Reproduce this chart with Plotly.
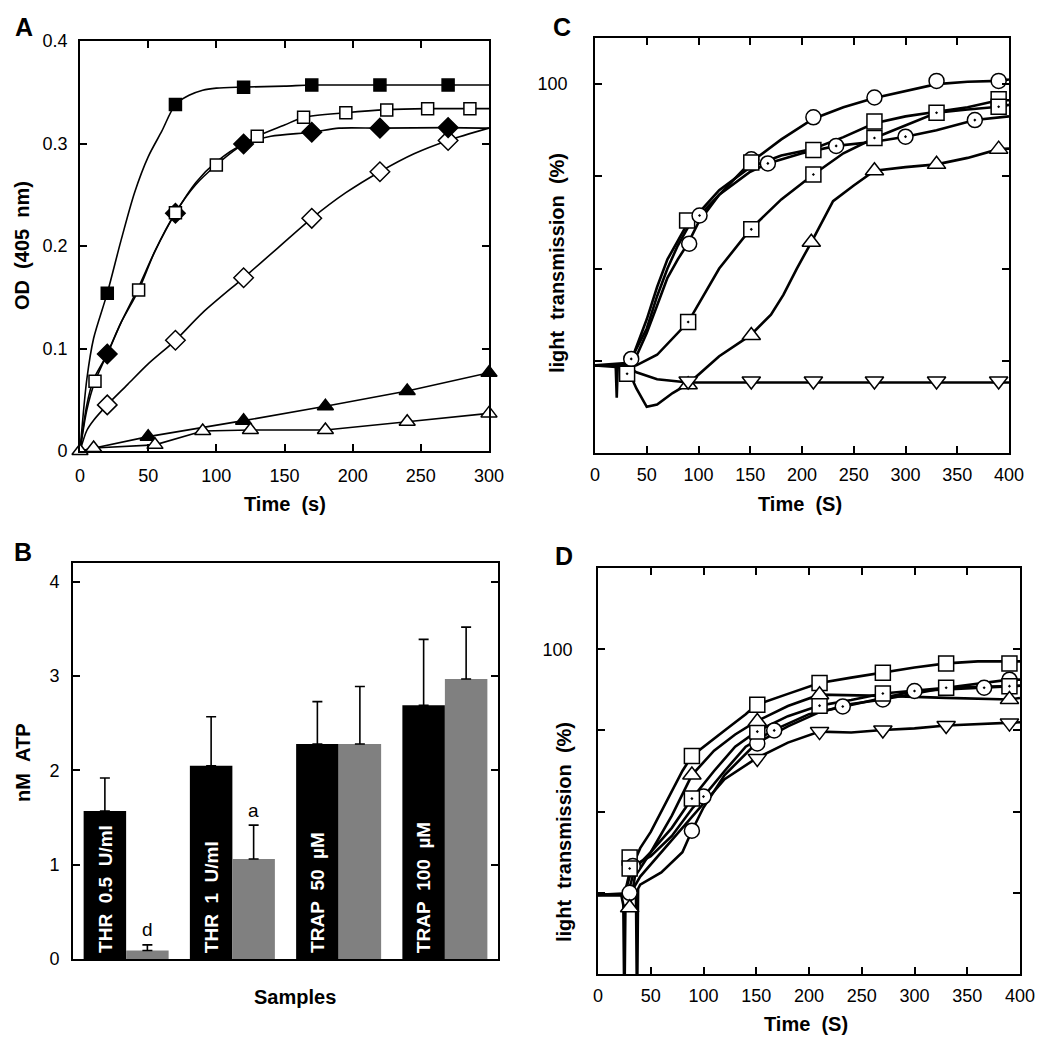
import plotly.graph_objects as go

FONT = "Liberation Sans, Arial, Helvetica, sans-serif"
W, H = 1039, 1050

# ---------------- Panel A data (OD 405 nm vs time) ----------------
a_fsq_line_x = [0, 5, 10, 20, 30, 40, 50, 60, 70, 80, 90, 100, 120, 150, 170, 200, 220, 250, 270, 300]
a_fsq_line_y = [0, 0.07, 0.11, 0.154, 0.205, 0.252, 0.287, 0.312, 0.338, 0.347, 0.352, 0.354, 0.355, 0.356, 0.357, 0.357, 0.357, 0.357, 0.357, 0.357]
a_fsq_mk_x = [20, 70, 120, 170, 220, 270]
a_fsq_mk_y = [0.154, 0.338, 0.355, 0.357, 0.357, 0.357]

a_osq_line_x = [0, 5, 11, 20, 30, 43, 55, 70, 85, 100, 115, 130, 150, 164, 195, 225, 255, 285, 300]
a_osq_line_y = [0, 0.04, 0.068, 0.095, 0.125, 0.157, 0.195, 0.2325, 0.26, 0.279, 0.295, 0.307, 0.318, 0.3255, 0.330, 0.333, 0.334, 0.334, 0.334]
a_osq_mk_x = [11, 43, 70, 100, 130, 164, 195, 225, 255, 286]
a_osq_mk_y = [0.068, 0.157, 0.2325, 0.279, 0.307, 0.3255, 0.330, 0.3327, 0.334, 0.334]

a_fdi_line_x = [0, 5, 10, 20, 30, 43, 55, 70, 85, 100, 120, 140, 170, 190, 220, 270, 300]
a_fdi_line_y = [0, 0.045, 0.07, 0.0946, 0.125, 0.16, 0.195, 0.232, 0.262, 0.282, 0.2995, 0.307, 0.311, 0.315, 0.315, 0.3155, 0.315]
a_fdi_mk_x = [20, 70, 120, 170, 220, 270]
a_fdi_mk_y = [0.0946, 0.232, 0.2995, 0.311, 0.315, 0.3155]

a_odi_line_x = [0, 5, 10, 20, 35, 50, 70, 90, 120, 145, 170, 195, 220, 245, 270, 300]
a_odi_line_y = [0, 0.02, 0.03, 0.045, 0.065, 0.085, 0.108, 0.135, 0.169, 0.198, 0.227, 0.252, 0.2725, 0.29, 0.303, 0.315]
a_odi_mk_x = [20, 70, 120, 170, 220, 270]
a_odi_mk_y = [0.045, 0.108, 0.169, 0.227, 0.2725, 0.303]

a_ftr_x = [0, 50, 120, 180, 240, 300]
a_ftr_y = [0, 0.014, 0.0296, 0.0436, 0.0585, 0.0764]
a_otr_x = [0, 10, 55, 90, 125, 180, 240, 300]
a_otr_y = [0, 0.003, 0.006, 0.0195, 0.0205, 0.0205, 0.0286, 0.0367]

# ---------------- Panel B data (nM ATP) ----------------
b_groups = [1, 2, 3, 4]
b_black = [1.57, 2.05, 2.28, 2.69]
b_black_err = [0.35, 0.52, 0.45, 0.70]
b_grey = [0.09, 1.06, 2.28, 2.97]
b_grey_err = [0.06, 0.36, 0.61, 0.55]
b_labels = ["THR\u00a0\u00a00.5\u00a0\u00a0U/ml", "THR\u00a0\u00a01\u00a0\u00a0U/ml",
            "TRAP\u00a0\u00a050\u00a0\u00a0\u00b5M", "TRAP\u00a0\u00a0100\u00a0\u00a0\u00b5M"]
b_sig = [(1, 0.31, "d"), (2, 1.58, "a")]

# ---------------- Panel C data (light transmission %) ----------------
c_series = {
    "circle": dict(
        lx=[0, 30, 38, 50, 60, 70, 80, 90, 100, 120, 150, 180, 211, 240, 270, 300, 330, 360, 390, 400],
        ly=[39, 39, 40, 46, 52, 58, 62, 65.5, 70, 76, 83, 88, 92.5, 95, 97, 98.5, 100, 100.5, 100.7, 101],
        mx=[91, 151, 211, 270, 330, 390], my=[65.4, 83.7, 92.8, 97.1, 100.7, 100.7]),
    "square": dict(
        lx=[0, 30, 35, 50, 60, 70, 80, 90, 100, 120, 150, 180, 211, 240, 270, 300, 330, 360, 390, 400],
        ly=[39, 39, 40, 49, 56, 62, 66, 70, 72, 77, 82, 84.5, 86, 88.5, 91.5, 93, 94, 95, 96.5, 96.5],
        mx=[89, 151, 211, 270, 390], my=[70.4, 83, 85.7, 91.9, 96.7]),
    "circle-dot": dict(
        lx=[0, 30, 35, 50, 60, 70, 80, 90, 101, 120, 150, 167, 200, 233, 270, 300, 330, 367, 400],
        ly=[39, 39.5, 40.4, 47, 54, 60, 65, 69, 71.5, 76, 81, 82.8, 85, 86.6, 87.5, 88.6, 90, 92.2, 93],
        mx=[35, 101, 167, 233, 300, 367], my=[40.4, 71.5, 82.8, 86.6, 88.6, 92.2]),
    "square-dot": dict(
        lx=[0, 30, 40, 60, 90, 120, 150, 180, 211, 240, 270, 300, 330, 360, 390, 400],
        ly=[39, 38.5, 39, 41.3, 48.4, 60, 68.5, 75, 80.4, 85, 88.3, 91, 93.8, 94.5, 95.1, 95.5],
        mx=[31, 90, 151, 211, 270, 330, 390], my=[37.2, 48.4, 68.5, 80.4, 88.3, 93.8, 95.1]),
    "triangle-up": dict(
        lx=[0, 30, 40, 50, 60, 75, 90, 120, 150, 170, 182, 195, 209, 230, 250, 270, 300, 330, 360, 390, 400],
        ly=[39, 39, 34, 30, 30.5, 33, 35, 41, 45.5, 50, 54.3, 60, 65.7, 74.6, 78, 81.2, 82, 82.6, 84, 85.9, 86],
        mx=[90, 151, 209, 270, 330, 390], my=[34.8, 45.5, 65.7, 81.2, 82.6, 85.9]),
    "triangle-down": dict(
        lx=[0, 20, 21, 22, 30, 40, 60, 90, 150, 210, 270, 330, 400],
        ly=[39, 39, 32, 39, 39, 37.5, 36, 35.3, 35.3, 35.3, 35.3, 35.3, 35.3],
        mx=[90, 151, 211, 270, 330, 390], my=[35.6, 35.6, 35.6, 35.6, 35.6, 35.6]),
}

# ---------------- Panel D data (light transmission %) ----------------
d_series = {
    "square": dict(
        lx=[0, 25, 30, 40, 50, 60, 70, 80, 89, 100, 120, 140, 150, 180, 210, 240, 270, 300, 330, 360, 400],
        ly=[39.5, 39.5, 45, 51, 55, 60, 65, 70, 73.7, 76, 80, 84, 86.3, 89, 91.7, 93, 94.2, 95.5, 96.5, 97, 97],
        mx=[30, 89, 151, 210, 270, 330, 390], my=[48.7, 73.7, 86.3, 91.7, 94.2, 96.5, 96.5]),
    "circle-dot": dict(
        lx=[0, 25, 33, 50, 70, 90, 100, 120, 140, 166, 200, 232, 270, 300, 366, 400],
        ly=[39.5, 39.5, 46.6, 49, 54, 61, 63.7, 70, 76, 80, 84, 85.9, 88, 89.7, 90.5, 91],
        mx=[33, 100, 167, 232, 300, 366], my=[46.6, 63.7, 80, 85.9, 89.7, 90.5]),
    "circle": dict(
        lx=[0, 30, 36, 37, 38, 40, 60, 80, 89, 100, 120, 150, 180, 210, 240, 270, 300, 330, 390, 400],
        ly=[39.5, 40, 40, 10, 41, 42, 45, 50, 55.3, 61, 69, 76.8, 81, 84.5, 86.5, 87.6, 89, 90.5, 92.5, 92.5],
        mx=[30, 89, 151, 270, 390], my=[40, 55.3, 76.8, 87.6, 92.5]),
    "square-dot": dict(
        lx=[0, 28, 35, 50, 70, 89, 110, 130, 150, 180, 210, 240, 270, 330, 400],
        ly=[39.5, 39.5, 46, 50, 56, 63.2, 70, 76, 79.7, 83.5, 86.1, 87.5, 89.1, 90.5, 91],
        mx=[30, 89, 151, 210, 270, 330, 390], my=[46, 63.2, 79.7, 86.1, 89.1, 90.5, 90.9]),
    "triangle-up": dict(
        lx=[0, 22, 24, 25, 26, 30, 35, 50, 70, 89, 110, 130, 150, 180, 210, 270, 330, 390, 400],
        ly=[39.5, 39.5, 37, 10, 37, 36.3, 44, 50, 59, 69, 75, 79, 82.2, 86, 88.8, 88.5, 88, 87.6, 88],
        mx=[30, 89, 151, 210, 390], my=[36.3, 69, 82.2, 88.8, 87.6]),
    "triangle-down": dict(
        lx=[0, 30, 40, 60, 80, 100, 120, 150, 180, 210, 240, 270, 300, 330, 390, 400],
        ly=[39.5, 39.5, 44, 50, 56, 62, 68, 73.1, 77, 79.7, 79.5, 80.1, 80.5, 81.2, 81.8, 82],
        mx=[151, 210, 270, 330, 390], my=[73.1, 79.7, 80.1, 81.2, 81.8]),
}

# ---------------- layout geometry (pixels) ----------------
def pxx(x):
    return x / W

def pxy(y):
    return 1 - y / H

fig = go.Figure()

BLACK = "black"
WHITE = "white"

def line_trace(x, y, xa, ya, shape="spline", width=1.6):
    return go.Scatter(x=x, y=y, mode="lines", xaxis=xa, yaxis=ya, showlegend=False,
                      line=dict(color=BLACK, width=width, shape=shape, smoothing=0.8 if shape == "spline" else None),
                      hoverinfo="skip")

def marker_trace(x, y, xa, ya, symbol, filled, size):
    return go.Scatter(x=x, y=y, mode="markers", xaxis=xa, yaxis=ya, showlegend=False, cliponaxis=False,
                      marker=dict(symbol=symbol, size=size, color=BLACK if filled else WHITE,
                                  line=dict(color=BLACK, width=1.5)),
                      hoverinfo="skip")

# Panel A
fig.add_trace(line_trace(a_odi_line_x, a_odi_line_y, "x", "y"))
fig.add_trace(line_trace(a_fdi_line_x, a_fdi_line_y, "x", "y"))
fig.add_trace(line_trace(a_osq_line_x, a_osq_line_y, "x", "y"))
fig.add_trace(line_trace(a_fsq_line_x, a_fsq_line_y, "x", "y"))
fig.add_trace(line_trace(a_ftr_x, a_ftr_y, "x", "y", shape="linear"))
fig.add_trace(line_trace(a_otr_x, a_otr_y, "x", "y", shape="linear"))
fig.add_trace(marker_trace(a_odi_mk_x, a_odi_mk_y, "x", "y", "diamond", False, 15))
fig.add_trace(marker_trace(a_fdi_mk_x, a_fdi_mk_y, "x", "y", "diamond", True, 15))
fig.add_trace(marker_trace(a_osq_mk_x, a_osq_mk_y, "x", "y", "square", False, 12))
fig.add_trace(marker_trace(a_fsq_mk_x, a_fsq_mk_y, "x", "y", "square", True, 12))
fig.add_trace(marker_trace(a_ftr_x[1:], a_ftr_y[1:], "x", "y", "triangle-up", True, 14))
fig.add_trace(marker_trace(a_otr_x, a_otr_y, "x", "y", "triangle-up", False, 14))

# Panel B
fig.add_trace(go.Bar(x=b_groups, y=b_black, xaxis="x3", yaxis="y3", showlegend=False,
                     marker=dict(color="black", line=dict(width=0)),
                     error_y=dict(type="data", array=b_black_err, arrayminus=[0] * 4, symmetric=False,
                                  color="black", thickness=1.6, width=5),
                     hoverinfo="skip"))
fig.add_trace(go.Bar(x=b_groups, y=b_grey, xaxis="x3", yaxis="y3", showlegend=False,
                     marker=dict(color="#808080", line=dict(width=0)),
                     error_y=dict(type="data", array=b_grey_err, arrayminus=[0] * 4, symmetric=False,
                                  color="black", thickness=1.6, width=5),
                     hoverinfo="skip"))

# Panels C and D
for series, xa, ya in [(c_series, "x2", "y2"), (d_series, "x4", "y4")]:
    for name, s in series.items():
        fig.add_trace(line_trace(s["lx"], s["ly"], xa, ya, shape="linear", width=2.6))
    for name, s in series.items():
        size = 16 if "triangle" in name else 15
        fig.add_trace(marker_trace(s["mx"], s["my"], xa, ya, name, False, size))

tickfont = dict(family=FONT, size=18, color="black")

def axis(domain, rng, anchor, **kw):
    d = dict(domain=domain, range=rng, anchor=anchor, showline=True, linecolor="black", linewidth=1.6,
             mirror="ticks", ticks="inside", ticklen=7, tickwidth=1.6, tickcolor="black",
             showgrid=False, zeroline=False, tickfont=tickfont, fixedrange=True, automargin=False)
    d.update(kw)
    return d

A_x = [pxx(80), pxx(489)]
A_y = [pxy(451), pxy(41)]
B_x = [pxx(73), pxx(498)]
B_y = [pxy(959), pxy(563)]
C_x = [pxx(595), pxx(1009)]
C_y = [pxy(453), pxy(38)]
D_x = [pxx(598), pxx(1020)]
D_y = [pxy(974), pxy(568)]

fig.update_layout(
    width=W, height=H, autosize=False,
    margin=dict(l=0, r=0, t=0, b=0, pad=0),
    paper_bgcolor="white", plot_bgcolor="white",
    barmode="group", bargap=0.2, bargroupgap=0,
    font=dict(family=FONT, color="black"),
    xaxis=axis(A_x, [0, 300], "y", tickvals=[0, 50, 100, 150, 200, 250, 300], ticklabelstandoff=8),
    yaxis=axis(A_y, [0, 0.4], "x", tickvals=[0, 0.1, 0.2, 0.3, 0.4],
               ticktext=["0", "0.1", "0.2", "0.3", "0.4"], ticklabelstandoff=7),
    xaxis2=axis(C_x, [0, 400], "y2", tickvals=list(range(0, 401, 50)), ticklabelstandoff=5),
    yaxis2=axis(C_y, [20, 110], "x2", tickvals=[40, 60, 80, 100], ticktext=["", "", "", "100"],
                ticklabelstandoff=22),
    xaxis3=axis(B_x, [0.5, 4.5], "y3", mirror=True, ticks="", showticklabels=False),
    yaxis3=axis(B_y, [0, 4.2], "x3", tickvals=[0, 1, 2, 3, 4], ticklabelstandoff=8),
    xaxis4=axis(D_x, [0, 400], "y4", tickvals=list(range(0, 401, 50)), ticklabelstandoff=5),
    yaxis4=axis(D_y, [20, 120], "x4", tickvals=[40, 60, 80, 100], ticktext=["", "", "", "100"],
                ticklabelstandoff=20),
)

ann = []

def label(text, x, y, size=20, bold=True, angle=0):
    ann.append(dict(text=f"<b>{text}</b>" if bold else text, x=pxx(x), y=pxy(y), xref="paper", yref="paper",
                    showarrow=False, xanchor="center", yanchor="middle", textangle=angle,
                    font=dict(family=FONT, size=size, color="black")))

SP = "\u00a0\u00a0"
# panel letters
label("A", 24, 27, size=25)
label("B", 23, 552, size=25)
label("C", 562, 27, size=25)
label("D", 564, 556, size=25)
# axis titles
label(f"OD{SP}(405{SP}nm)", 22, 246, angle=-90)
label(f"Time{SP}(s)", 285, 504)
label(f"nM{SP}ATP", 23, 763, angle=-90)
label("Samples", 295, 997)
label(f"light{SP}transmission{SP}(%)", 557, 263, angle=-90)
label(f"Time{SP}(S)", 800, 504)
label(f"light{SP}transmission{SP}(%)", 564, 832, angle=-90)
label(f"Time{SP}(S)", 806, 1024)

# rotated labels inside the black bars (anchored at the bar base)
for gx, t in zip(b_groups, b_labels):
    ann.append(dict(text=f"<b>{t}</b>", x=gx - 0.2, y=0, xref="x3", yref="y3", showarrow=False,
                    xanchor="center", yanchor="bottom", yshift=4, textangle=-90,
                    font=dict(family=FONT, size=19, color="white")))

# significance letters on panel B
for gx, gy, t in b_sig:
    ann.append(dict(text=t, x=gx + 0.2, y=gy, xref="x3", yref="y3", showarrow=False,
                    xanchor="center", yanchor="middle", font=dict(family=FONT, size=19, color="black")))

fig.update_layout(annotations=ann)

fig.write_html("out.html", config={"displayModeBar": False},
               post_script="document.body.style.margin='0px';document.body.style.padding='0px';")
